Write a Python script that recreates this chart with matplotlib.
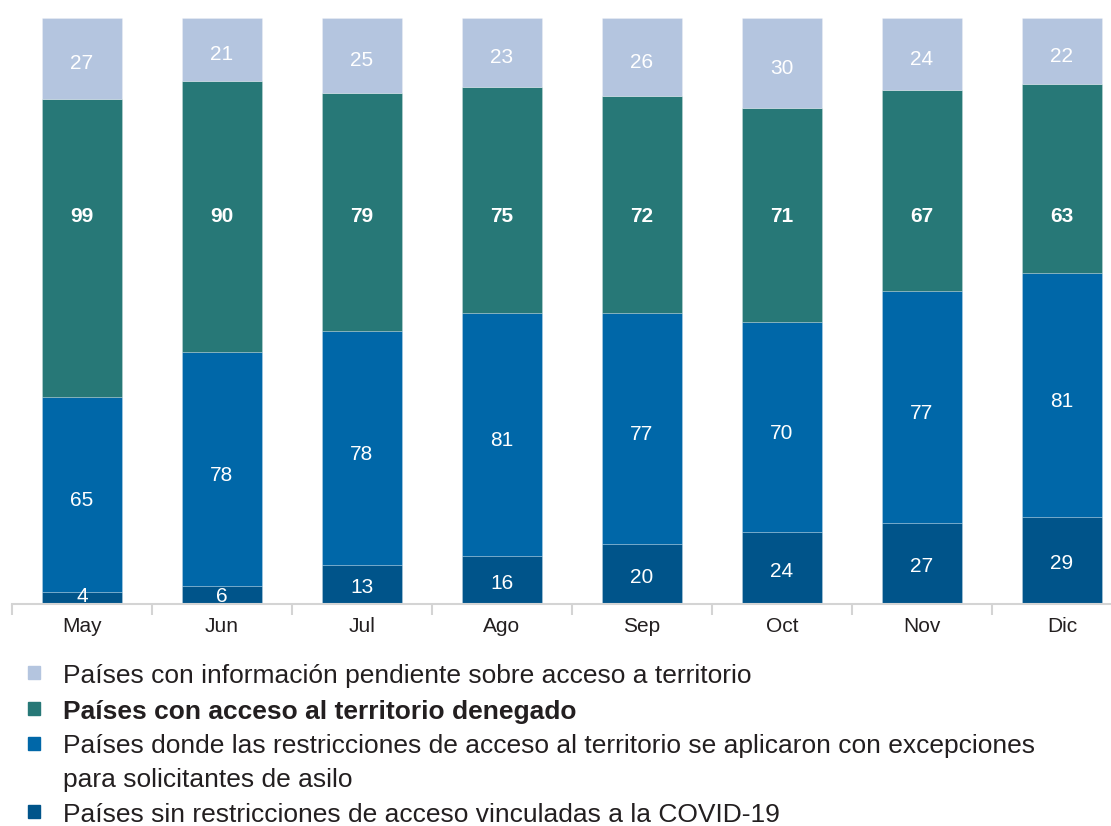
import matplotlib
matplotlib.use("Agg")
import matplotlib.pyplot as plt
from matplotlib.patches import Rectangle
import numpy as np

plt.rcParams['font.family'] = ['Liberation Sans', 'DejaVu Sans']

months = ["May", "Jun", "Jul", "Ago", "Sep", "Oct", "Nov", "Dic"]
sin_restr = [4, 6, 13, 16, 20, 24, 27, 29]
con_excep = [65, 78, 78, 81, 77, 70, 77, 81]
denegado = [99, 90, 79, 75, 72, 71, 67, 63]
pendiente = [27, 21, 25, 23, 26, 30, 24, 22]

legend_labels = [
    "Países con información pendiente sobre acceso a territorio",
    "Países con acceso al territorio denegado",
    "Países donde las restricciones de acceso al territorio se aplicaron con excepciones\npara solicitantes de asilo",
    "Países sin restricciones de acceso vinculadas a la COVID-19",
]

c_dark = "#00548a"
c_mid = "#0067a8"
c_green = "#277877"
c_light = "#b4c5df"

W, H = 1111, 826
fig = plt.figure(figsize=(W / 100, H / 100), dpi=100)
ax = fig.add_axes([12 / W, (H - 604) / H, 1120 / W, 586 / H])

x = np.arange(len(months))
bw = 0.57
series = [sin_restr, con_excep, denegado, pendiente]
colors = [c_dark, c_mid, c_green, c_light]
bottom = np.zeros(len(months))
for vals, col in zip(series, colors):
    ax.bar(x, vals, bw, bottom=bottom, color=col, edgecolor=(1, 1, 1, 0.25), linewidth=0.6)
    bottom += np.array(vals)

# labels
offsets = [0, -1.5, 0, -1.0]
b = np.zeros(len(months))
for i, (vals, col) in enumerate(zip(series, colors)):
    for j, v in enumerate(vals):
        if i == 2:
            ax.text(x[j], 129.5, str(v), ha='center', va='center_baseline', color='white',
                    fontsize=15, fontweight='bold')
        else:
            if i == 0:
                y = max(v / 2 - 0.5, 3.2)
            else:
                y = b[j] + v / 2 + offsets[i]
            ax.text(x[j], y, str(v), ha='center', va='center_baseline', color='white',
                    fontsize=15)
    b += np.array(vals)

ax.set_xlim(-0.5, 7.5)
ax.set_ylim(0, 195)
ax.set_yticks([])
for s in ['top', 'right', 'left']:
    ax.spines[s].set_visible(False)
ax.spines['bottom'].set_color('#d4d4d4')
ax.spines['bottom'].set_linewidth(1.5)
ax.set_xticks(x)
ax.set_xticklabels(months, fontsize=15, color='#231f20')
ax.tick_params(axis='x', which='major', length=0, pad=9.5)
ax.set_xticks(np.arange(-0.5, 8.0, 1.0), minor=True)
ax.tick_params(axis='x', which='minor', length=8, width=1.5, color='#d4d4d4')

# legend (manual)
leg_y = [673, 709, 744, 812]
line_gap = 34
for (ly, lab, col, bold) in zip(leg_y, legend_labels, [c_light, c_green, c_mid, c_dark],
                                [False, True, False, False]):
    fig.patches.append(Rectangle((28 / W, (H - ly - 6) / H), 12 / W, 13 / H,
                                 transform=fig.transFigure, color=col, figure=fig))
    for k, line in enumerate(lab.split('\n')):
        fig.text(63 / W, (H - ly - k * line_gap) / H, line, ha='left', va='center_baseline',
                 fontsize=19, color='#231f20', fontweight='bold' if bold else 'normal')

fig.savefig("out.png", dpi=100)
